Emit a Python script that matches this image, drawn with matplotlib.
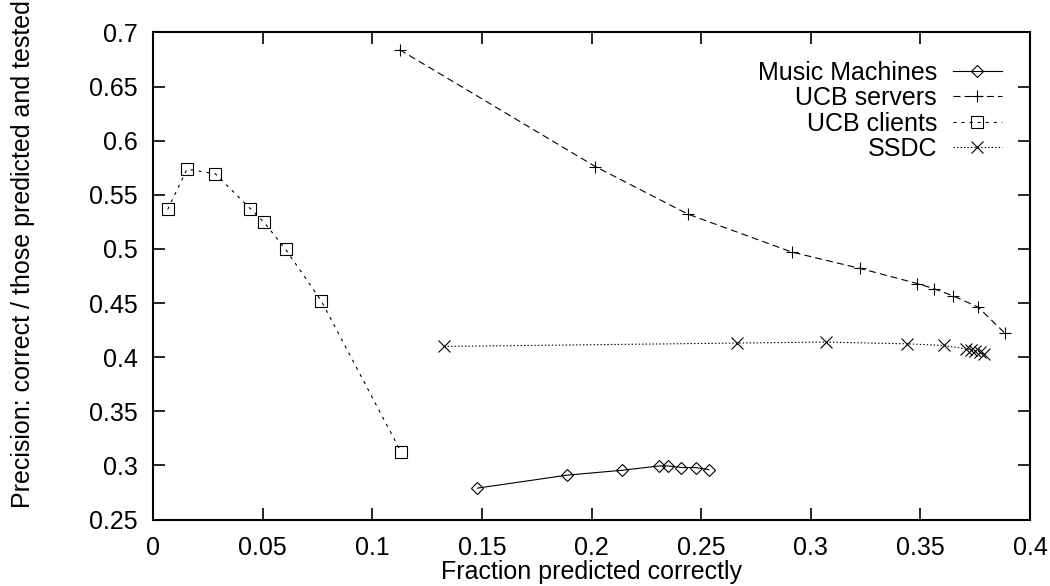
import matplotlib
matplotlib.use("Agg")
import matplotlib.pyplot as plt
from matplotlib.ticker import MultipleLocator

# Precision vs. fraction predicted correctly for four trace sets
music_x = [0.148, 0.189, 0.214, 0.231, 0.235, 0.241, 0.2475, 0.2535]
music_y = [0.279, 0.291, 0.2955, 0.2995, 0.2995, 0.298, 0.298, 0.296]

servers_x = [0.1125, 0.2018, 0.2441, 0.2915, 0.3224, 0.3486, 0.3561, 0.3650, 0.3763, 0.3885]
servers_y = [0.684, 0.576, 0.532, 0.497, 0.482, 0.468, 0.4633, 0.4565, 0.4463, 0.4222]

clients_x = [0.0067, 0.0155, 0.0284, 0.0444, 0.0507, 0.0605, 0.0767, 0.1131]
clients_y = [0.5365, 0.5737, 0.5694, 0.5371, 0.5245, 0.4995, 0.4522, 0.3125]

ssdc_x = [0.1328, 0.2665, 0.3068, 0.3437, 0.3607, 0.371, 0.373, 0.375, 0.377, 0.379]
ssdc_y = [0.4099, 0.4130, 0.4139, 0.4123, 0.4108, 0.4075, 0.407, 0.406, 0.405, 0.403]

series_labels = ["Music Machines", "UCB servers", "UCB clients", "SSDC"]

plt.rcParams["font.family"] = ["Liberation Sans", "DejaVu Sans"]
plt.rcParams["font.size"] = 18
plt.rcParams["lines.scale_dashes"] = False

W, H = 1050, 586
fig = plt.figure(figsize=(W / 100, H / 100), dpi=100)
left, right, top, bottom = 153, 1030, 32.4, 519.5
ax = fig.add_axes([left / W, 1 - bottom / H, (right - left) / W, (bottom - top) / H])

lw = 0.8
mew = 0.8
ax.plot(music_x, music_y, color="black", lw=lw, linestyle="-",
        marker="D", ms=6.6, mfc="none", mec="black", mew=mew, label=series_labels[0])
ax.plot(servers_x, servers_y, color="black", lw=lw, linestyle=(0, (5, 3)),
        marker="+", ms=9, mec="black", mew=mew, label=series_labels[1])
ax.plot(clients_x, clients_y, color="black", lw=lw, linestyle=(0, (2.2, 3.6)),
        marker="s", ms=8.3, mfc="none", mec="black", mew=mew, label=series_labels[2])
ax.plot(ssdc_x, ssdc_y, color="black", lw=lw, linestyle=(0, (1, 1.5)),
        marker="x", ms=8.6, mec="black", mew=mew, label=series_labels[3])

ax.set_xlim(0, 0.4)
ax.set_ylim(0.25, 0.7)
ax.xaxis.set_major_locator(MultipleLocator(0.05))
ax.yaxis.set_major_locator(MultipleLocator(0.05))
fmt = lambda v, pos: ("%g" % round(v, 4))
ax.xaxis.set_major_formatter(plt.FuncFormatter(fmt))
ax.yaxis.set_major_formatter(plt.FuncFormatter(fmt))
ax.tick_params(direction="in", length=8.4, width=1.2, top=True, right=True,
               labelsize=18, color="black")
ax.tick_params(axis="x", pad=12)
ax.tick_params(axis="y", pad=11)
for s in ax.spines.values():
    s.set_linewidth(1.5)

ax.set_xlabel("Fraction predicted correctly", fontsize=18, labelpad=0)
fig.text(23 / W, 1 - 254 / H, "Precision: correct / those predicted and tested",
         rotation=90, ha="center", va="center", fontsize=18)

leg = ax.legend(loc="upper right", bbox_to_anchor=(0.968, 0.942), frameon=False,
                markerfirst=False, handlelength=1.96, handletextpad=0.64,
                labelspacing=0.06, borderpad=0, borderaxespad=0, numpoints=1,
                fontsize=18)
for t in leg.get_texts():
    t.set_ha("right")

fig.savefig("out.png", dpi=100)
